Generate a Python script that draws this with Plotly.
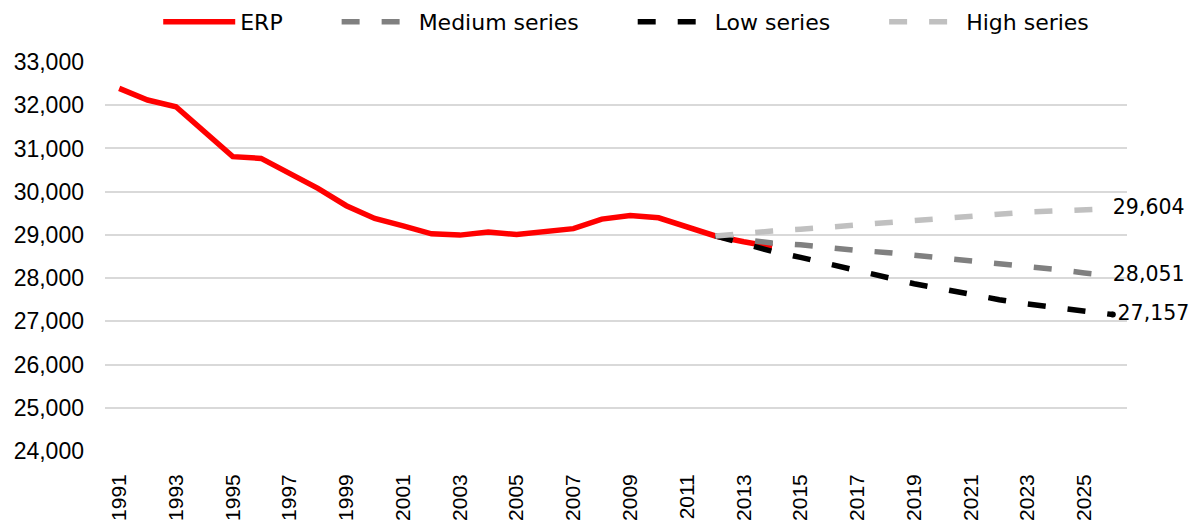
import plotly.graph_objects as go

# Estimated resident population (ERP) and projection series
erp_years = list(range(1991, 2015))
erp_values = [32390, 32120, 31965, 31385, 30810, 30770, 30425, 30075, 29675, 29380,
              29210, 29025, 28995, 29065, 29010, 29075, 29145, 29365, 29450, 29395,
              29195, 28975, 28840, 28725]

proj_years = list(range(2012, 2027))
medium_values = [28975, 28890, 28810, 28770, 28700, 28640, 28595, 28530, 28470, 28400,
                 28350, 28270, 28200, 28120, 28051]
low_values = [28975, 28800, 28620, 28480, 28320, 28180, 28030, 27870, 27750, 27620,
              27500, 27400, 27310, 27230, 27157]
high_values = [28975, 29040, 29090, 29130, 29180, 29235, 29290, 29345, 29400, 29455,
               29500, 29530, 29555, 29580, 29604]

series_names = ["ERP", "Medium series", "Low series", "High series"]

LABEL_FONT = "DejaVu Sans"
AXIS_FONT = "Liberation Sans"
DASH = "18px,22px"
PAD = "\u00a0" * 7  # extra spacing between legend entries


def legend_name(i):
    return series_names[i] + (PAD if i < len(series_names) - 1 else "")


fig = go.Figure()

fig.add_trace(go.Scatter(x=erp_years, y=erp_values, mode="lines", name=legend_name(0),
                         line=dict(color="#ff0000", width=5.5)))
fig.add_trace(go.Scatter(x=proj_years, y=medium_values, mode="lines", name=legend_name(1),
                         line=dict(color="#808080", width=5.5, dash=DASH)))
fig.add_trace(go.Scatter(x=proj_years, y=low_values, mode="lines", name=legend_name(2),
                         line=dict(color="#000000", width=5.5, dash=DASH)))
fig.add_trace(go.Scatter(x=proj_years, y=high_values, mode="lines", name=legend_name(3),
                         line=dict(color="#c0c0c0", width=5.5, dash=DASH)))

# End-point value labels
for vals, show_dot in [(high_values, False), (medium_values, False), (low_values, True)]:
    fig.add_trace(go.Scatter(
        x=[proj_years[-1]], y=[vals[-1]],
        mode="markers+text" if show_dot else "text",
        marker=dict(color="#000000", size=6),
        text=[f"{vals[-1]:,}"], textposition="middle right",
        textfont=dict(family=LABEL_FONT, size=20.5, color="#000000"),
        showlegend=False, hoverinfo="skip", cliponaxis=False))

fig.update_layout(
    width=1197, height=521,
    margin=dict(l=105, r=70, t=62, b=70, autoexpand=False),
    paper_bgcolor="white", plot_bgcolor="white",
    font=dict(family=LABEL_FONT, size=20, color="#000000"),
    legend=dict(orientation="h", x=0.51, xanchor="center",
                yref="container", y=0.958, yanchor="middle",
                font=dict(family=LABEL_FONT, size=22), itemwidth=72,
                traceorder="normal"),
    showlegend=True,
)

fig.update_xaxes(range=[1990.5, 2026.5], tickmode="linear", tick0=1991, dtick=2,
                 tickangle=-90, showgrid=False, showline=False, zeroline=False,
                 ticks="", ticklabelstandoff=18,
                 tickfont=dict(family=AXIS_FONT, size=21))
fig.update_yaxes(range=[24000, 33000], dtick=1000, tickformat=",d",
                 showgrid=True, gridcolor="#d9d9d9", gridwidth=1.5, zeroline=False,
                 showline=False, ticks="", ticklabelstandoff=20,
                 tickfont=dict(family=AXIS_FONT, size=23))

fig.write_html("out.html")
